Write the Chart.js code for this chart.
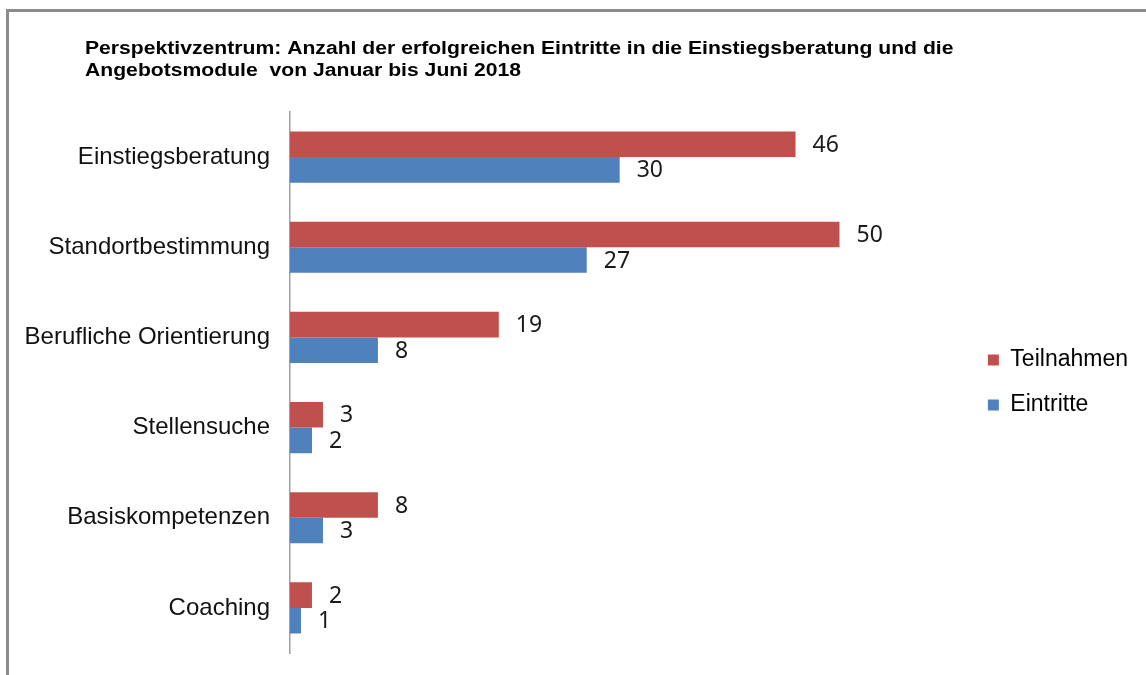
<!DOCTYPE html>
<html>
<head>
<meta charset="utf-8">
<script src="https://cdn.jsdelivr.net/npm/chart.js@4/dist/chart.umd.min.js"></script>
<style>
  html, body { margin: 0; padding: 0; background: #fff; }
  #wrap { position: relative; width: 1146px; height: 675px; overflow: hidden; }
  #frame { position: absolute; left: 6px; top: 9px; right: -10px; bottom: -10px;
           border-left: 3px solid #8c8c8c; border-top: 3px solid #8c8c8c; pointer-events: none; }
</style>
</head>
<body>
<div id="wrap">
  <canvas id="chart" width="1146" height="675"></canvas>
  <div id="frame"></div>
</div>
<script>
var categories = ['Einstiegsberatung', 'Standortbestimmung', 'Berufliche Orientierung', 'Stellensuche', 'Basiskompetenzen', 'Coaching'];
var teilnahmen = [46, 50, 19, 3, 8, 2];
var eintritte = [30, 27, 8, 2, 3, 1];
var titleLines = [
    'Perspektivzentrum: Anzahl der erfolgreichen Eintritte in die Einstiegsberatung und die',
    'Angebotsmodule  von Januar bis Juni 2018'
];

// title drawn at the top left, like the original (its font is a wide one)
var titlePlugin = {
    id: 'leftTitle',
    afterDraw: function(chart) {
        var ctx = chart.ctx;
        ctx.save();
        ctx.fillStyle = '#000';
        ctx.font = 'bold 18px "Liberation Sans", Arial, sans-serif';
        ctx.textBaseline = 'alphabetic';
        ctx.translate(85, 0);
        ctx.scale(1.175, 1);
        ctx.fillText(titleLines[0], 0, 54);
        ctx.fillText(titleLines[1], 0, 76);
        ctx.restore();
    }
};

// numbers at the end of each bar
var valueLabels = {
    id: 'valueLabels',
    afterDatasetsDraw: function(chart) {
        var ctx = chart.ctx;
        ctx.save();
        ctx.fillStyle = '#1a1a1a';
        ctx.font = '23px "Noto Sans", sans-serif';
        ctx.textBaseline = 'middle';
        ctx.textAlign = 'left';
        chart.data.datasets.forEach(function(ds, i) {
            chart.getDatasetMeta(i).data.forEach(function(bar, j) {
                ctx.fillText(ds.data[j], bar.x + 17, bar.y + 1);
            });
        });
        ctx.restore();
    }
};

new Chart(document.getElementById('chart'), {
    type: 'bar',
    data: {
        labels: categories,
        datasets: [
            { label: 'Teilnahmen', data: teilnahmen, backgroundColor: '#C0504D' },
            { label: 'Eintritte', data: eintritte, backgroundColor: '#4F81BD' }
        ]
    },
    options: {
        indexAxis: 'y',
        responsive: false,
        animation: false,
        categoryPercentage: 0.567,
        barPercentage: 1,
        layout: { padding: { top: 112, bottom: 22, left: 0, right: 8 } },
        scales: {
            x: {
                display: false,
                min: 0,
                max: 61.5
            },
            y: {
                grid: { display: false, drawTicks: false },
                border: { display: true, color: '#a0a0a0', width: 1.5 },
                ticks: {
                    color: '#111',
                    padding: 20,
                    font: { family: '"Liberation Sans", Arial, sans-serif', size: 24 }
                },
                afterFit: function(scale) {
                    scale.width = 290;
                    // labels sit well inside the bands, no extra room needed
                    scale.paddingTop = 0;
                    scale.paddingBottom = 0;
                }
            }
        },
        plugins: {
            title: { display: false },
            tooltip: { enabled: false },
            legend: {
                position: 'right',
                labels: {
                    boxWidth: 11,
                    boxHeight: 11,
                    padding: 22,
                    color: '#000',
                    font: { family: '"Liberation Sans", Arial, sans-serif', size: 23 }
                }
            }
        }
    },
    plugins: [titlePlugin, valueLabels]
});
</script>
</body>
</html>
